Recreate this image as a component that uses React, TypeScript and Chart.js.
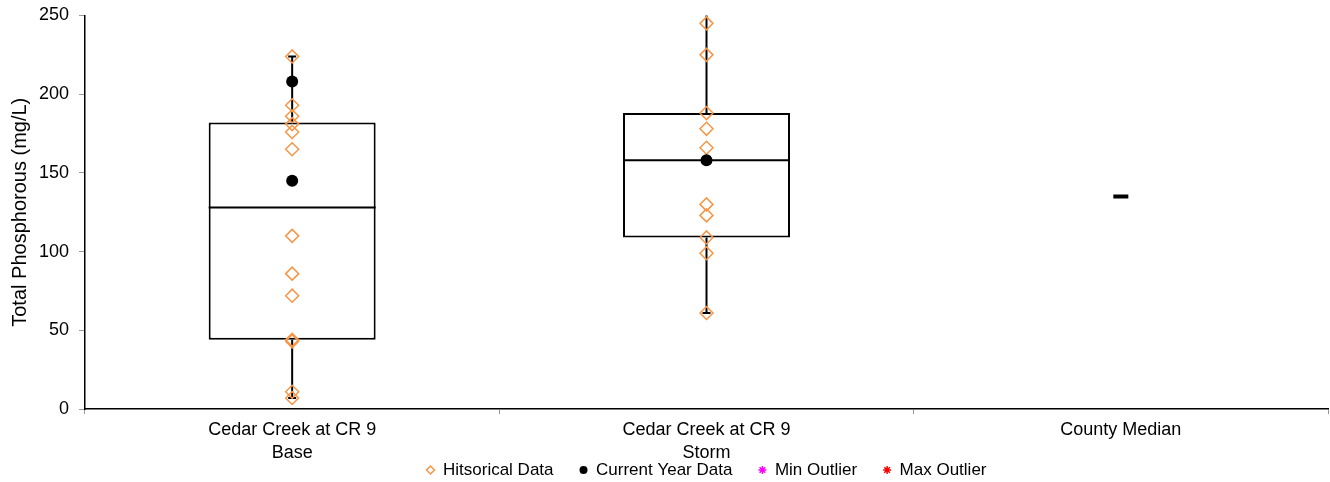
import React, { useEffect, useRef } from 'react';
import { Chart, registerables } from 'chart.js';

Chart.register(...registerables);

// ---- data ----
const categoryLines: string[][] = [
  ['Cedar Creek at CR 9', 'Base'],
  ['Cedar Creek at CR 9', 'Storm'],
  ['County Median'],
];
const categories = categoryLines.map((l) => l.join('\n'));

const boxMin: (number | null)[] = [7, 61, null];
const boxQ1: (number | null)[] = [44, 109, null];
const boxMedian: (number | null)[] = [128, 158, null];
const boxQ3: (number | null)[] = [182, 188, null];
const boxMax: (number | null)[] = [224, 262, null];

const historicalBase = [224, 193, 186, 181, 176, 165, 110, 86, 72, 44, 43, 11, 7];
const historicalStorm = [245, 225, 188, 178, 166, 130, 123, 109, 99, 61];
const currentBase = [208, 145];
const currentStorm = [158];
const countyMedian = [135];
const minOutliers: number[] = [];
const maxOutliers: number[] = [];

const yTicks = [0, 50, 100, 150, 200, 250];

const ORANGE = '#F79646';
const FONT = "'Liberation Sans', Arial, sans-serif";

const boxPlugin = {
  id: 'boxWhiskers',
  afterLayout(chart: any) {
    const lg = chart.legend;
    if (lg) {
      lg.top = 435.5;
      lg.bottom = chart.height;
      lg.height = lg.bottom - lg.top;
    }
  },
  beforeDatasetsDraw(chart: any) {
    const { ctx, chartArea } = chart;
    const x = chart.scales.x;
    const y = chart.scales.y;
    ctx.save();
    ctx.beginPath();
    ctx.rect(chartArea.left, chartArea.top, chartArea.right - chartArea.left, chartArea.bottom - chartArea.top);
    ctx.clip();
    ctx.strokeStyle = '#000';
    ctx.lineWidth = 2;
    categories.forEach((_, i) => {
      const mn = boxMin[i], q1 = boxQ1[i], q3 = boxQ3[i], mx = boxMax[i];
      if (mn == null || q1 == null || q3 == null || mx == null) return;
      const cx = x.getPixelForValue(i);
      const pMin = y.getPixelForValue(mn);
      const pQ1 = y.getPixelForValue(q1);
      const pQ3 = y.getPixelForValue(q3);
      const pMax = y.getPixelForValue(mx);
      ctx.beginPath();
      ctx.moveTo(cx, pMax); ctx.lineTo(cx, pQ3);
      ctx.moveTo(cx, pQ1); ctx.lineTo(cx, pMin);
      ctx.moveTo(cx - 4, pMax); ctx.lineTo(cx + 4, pMax);
      ctx.moveTo(cx - 4, pMin); ctx.lineTo(cx + 4, pMin);
      ctx.stroke();
    });
    ctx.restore();
  },
  afterDatasetDraw(chart: any, args: any) {
    if (args.meta.type !== 'bar') return;
    const { ctx } = chart;
    const y = chart.scales.y;
    args.meta.data.forEach((el: any, i: number) => {
      const med = boxMedian[i];
      if (med == null) return;
      const { x, width } = el.getProps(['x', 'width'], true);
      const py = y.getPixelForValue(med);
      ctx.save();
      ctx.strokeStyle = '#000';
      ctx.lineWidth = 2;
      ctx.beginPath();
      ctx.moveTo(x - width / 2, py);
      ctx.lineTo(x + width / 2, py);
      ctx.stroke();
      ctx.restore();
    });
  },
};

export default function App() {
  const canvasRef = useRef<HTMLCanvasElement | null>(null);

  useEffect(() => {
    document.body.style.margin = '0';
    const canvas = canvasRef.current;
    if (!canvas) return;
    Chart.defaults.font.family = FONT;

    const historicalPoints = [
      ...historicalBase.map((v) => ({ x: categories[0], y: v })),
      ...historicalStorm.map((v) => ({ x: categories[1], y: v })),
    ];
    const currentPoints = [
      ...currentBase.map((v) => ({ x: categories[0], y: v })),
      ...currentStorm.map((v) => ({ x: categories[1], y: v })),
    ];
    const countyPoints = countyMedian.map((v) => ({ x: categories[2], y: v }));

    const chart = new Chart(canvas, {
      type: 'bar',
      data: {
        labels: categories,
        datasets: [
          {
            type: 'line',
            label: 'Hitsorical Data',
            data: historicalPoints as any,
            showLine: false,
            pointStyle: 'rectRot',
            pointRadius: 6.5,
            pointBorderWidth: 1.5,
            pointBorderColor: ORANGE,
            pointBackgroundColor: 'rgba(255,255,255,0)',
            borderColor: ORANGE,
            backgroundColor: 'rgba(255,255,255,0)',
            order: 1,
          },
          {
            type: 'line',
            label: 'Current Year Data',
            data: currentPoints as any,
            showLine: false,
            pointStyle: 'circle',
            pointRadius: 6,
            pointBorderWidth: 0,
            pointBorderColor: '#000',
            pointBackgroundColor: '#000',
            borderColor: '#000',
            backgroundColor: '#000',
            order: 0,
          },
          {
            type: 'line',
            label: 'Min Outlier',
            data: minOutliers as any,
            showLine: false,
            pointStyle: 'star',
            pointRadius: 6,
            pointBorderWidth: 1.5,
            pointBorderColor: '#FF00FF',
            pointBackgroundColor: '#FF00FF',
            borderColor: '#FF00FF',
            backgroundColor: '#FF00FF',
            order: 0,
          },
          {
            type: 'line',
            label: 'Max Outlier',
            data: maxOutliers as any,
            showLine: false,
            pointStyle: 'star',
            pointRadius: 6,
            pointBorderWidth: 1.5,
            pointBorderColor: '#FF0000',
            pointBackgroundColor: '#FF0000',
            borderColor: '#FF0000',
            backgroundColor: '#FF0000',
            order: 0,
          },
          {
            type: 'bar',
            label: 'box',
            data: boxQ1.map((q, i) => (q == null || boxQ3[i] == null ? null : [q, boxQ3[i]])) as any,
            backgroundColor: '#ffffff',
            borderColor: '#000',
            borderWidth: 2,
            borderSkipped: false,
            barPercentage: 0.403,
            categoryPercentage: 1,
            grouped: false,
            order: 5,
          },
          {
            type: 'line',
            label: 'County Median',
            data: countyPoints as any,
            showLine: false,
            pointStyle: 'line',
            pointRadius: 7.5,
            pointBorderWidth: 4,
            pointBorderColor: '#000',
            borderColor: '#000',
            order: 0,
          },
        ],
      },
      options: {
        animation: false,
        responsive: true,
        maintainAspectRatio: false,
        layout: { autoPadding: false, padding: { top: 15.5, right: 2, bottom: 5, left: 0 } },
        plugins: {
          tooltip: { enabled: false },
          legend: {
            position: 'bottom',
            fullSize: false,
            maxHeight: 13,
            labels: {
              usePointStyle: true,
              boxWidth: 8,
              boxHeight: 5.66,
              padding: 26,
              color: '#000',
              font: { size: 17, family: FONT },
              filter: (item: any) => item.datasetIndex <= 3,
              sort: (a: any, b: any) => a.datasetIndex - b.datasetIndex,
            },
          },
        },
        scales: {
          x: {
            type: 'category',
            offset: true,
            grid: { offset: true, drawOnChartArea: false, drawTicks: true, tickLength: 5, color: '#999' },
            border: { color: '#000', width: 1.5 },
            ticks: {
              color: '#000',
              font: { size: 18, family: FONT, lineHeight: 1.25 },
              padding: 5,
              maxRotation: 0,
              autoSkip: false,
              callback: function (this: any, v: any) {
                return String(this.getLabelForValue(v)).split('\n');
              },
            },
            afterFit: (s: any) => {
              s.height = 55;
              s.paddingLeft = 0;
              s.paddingRight = 0;
            },
          },
          y: {
            min: 0,
            max: 250,
            grid: { drawOnChartArea: false, drawTicks: true, tickLength: 6, color: '#999' },
            border: { color: '#000', width: 1.5 },
            ticks: { color: '#000', font: { size: 18, family: FONT }, padding: 10, autoSkip: false },
            afterBuildTicks: (s: any) => { s.ticks = yTicks.map((v) => ({ value: v })); },
            title: {
              display: true,
              text: 'Total Phosphorous (mg/L)',
              color: '#000',
              font: { size: 20, family: FONT },
              padding: { top: 8, bottom: 0 },
            },
            afterFit: (s: any) => {
              s.width = 85;
              s.paddingTop = 0;
              s.paddingBottom = 0;
            },
          },
        },
      } as any,
      plugins: [boxPlugin],
    });

    return () => chart.destroy();
  }, []);

  return (
    <div style={{ position: 'relative', width: 1330, height: 482 }}>
      <canvas ref={canvasRef} />
    </div>
  );
}
